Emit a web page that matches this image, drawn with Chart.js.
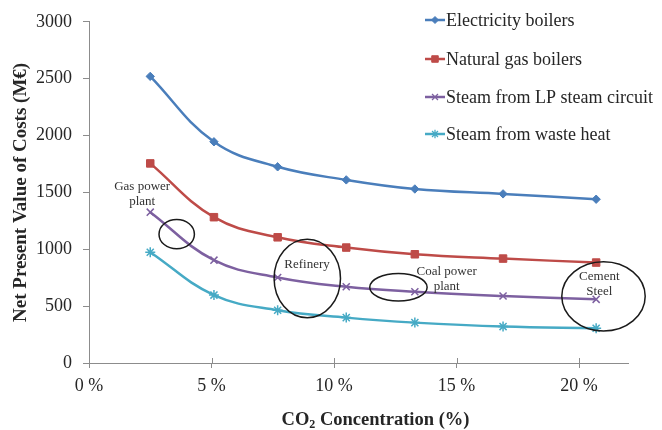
<!DOCTYPE html>
<html><head><meta charset="utf-8">
<script src="https://cdn.jsdelivr.net/npm/chart.js@4.4.0/dist/chart.umd.min.js"></script>
<style>html,body{margin:0;padding:0;background:#fff}#wrap{width:662px;height:430px}</style>
</head><body><div id="wrap"><canvas id="c" width="662" height="430"></canvas></div>
<script>
// ---- data ----
const co2Concentration = [2.5, 5.1, 7.7, 10.5, 13.3, 16.9, 20.7];
const electricityBoilers = [2520, 1945, 1725, 1610, 1530, 1487, 1440];
const naturalGasBoilers = [1755, 1282, 1105, 1015, 956, 918, 883];
const lpSteamCircuit = [1326, 904, 752, 670, 626, 589, 560];
const wasteHeat = [974, 597, 464, 399, 355, 320, 306];
const seriesNames = ['Electricity boilers', 'Natural gas boilers', 'Steam from LP steam circuit', 'Steam from waste heat'];
const xTickValues = [0, 5, 10, 15, 20];
const yTickValues = [0, 500, 1000, 1500, 2000, 2500, 3000];
const xTitleParts = ['CO', '2', ' Concentration (%)'];
const yTitle = 'Net Present Value of Costs (M€)';
// annotations (in data units; radii in px)
const noteTexts = [
  {lines: ['Gas power', 'plant'], x: 2.17, y: 1553},
  {lines: ['Refinery'], x: 8.9, y: 868},
  {lines: ['Coal power', 'plant'], x: 14.6, y: 801},
  {lines: ['Cement', 'Steel'], x: 20.83, y: 757}
];
const noteEllipses = [
  {x: 3.58, y: 1133, rx: 17.7, ry: 14.7},
  {x: 8.91, y: 743, rx: 33.2, ry: 39.3},
  {x: 12.63, y: 666, rx: 28.7, ry: 13.8},
  {x: 21.0, y: 586, rx: 41.7, ry: 34.7}
];

const FONT = "'Liberation Serif', 'Times New Roman', serif";
const TEXT = '#262626';
const AXIS = '#8c8c8c';
const colors = ['#4A7EBB', '#BE4B48', '#7D60A0', '#46AAC5'];
const styles = [
  {pointStyle: 'rectRot', pointRadius: 4.2, pointBorderWidth: 1},
  {pointStyle: 'rect', pointRadius: 5.3, pointBorderWidth: 1},
  {pointStyle: 'crossRot', pointRadius: 5, pointBorderWidth: 1.5},
  {pointStyle: 'star', pointRadius: 5, pointBorderWidth: 1.5}
];
const legendStyles = [
  {pointStyle: 'rectRot', pointRadius: 3.5, pointBorderWidth: 1},
  {pointStyle: 'rect', pointRadius: 4.6, pointBorderWidth: 1},
  {pointStyle: 'crossRot', pointRadius: 4.2, pointBorderWidth: 1.3},
  {pointStyle: 'star', pointRadius: 4.2, pointBorderWidth: 1.3}
];
const seriesValues = [electricityBoilers, naturalGasBoilers, lpSteamCircuit, wasteHeat];

const datasets = seriesValues.map((vals, i) => ({
  label: seriesNames[i],
  data: vals.map((v, j) => ({x: co2Concentration[j], y: v})),
  borderColor: colors[i],
  backgroundColor: colors[i],
  pointBackgroundColor: colors[i],
  pointBorderColor: colors[i],
  borderWidth: 2.5,
  tension: 0.4,
  fill: false,
  ...styles[i]
}));

function drawMarker(ctx, st, color, x, y) {
  ctx.save();
  ctx.fillStyle = color; ctx.strokeStyle = color; ctx.lineWidth = st.pointBorderWidth;
  if (Chart.helpers && Chart.helpers.drawPoint) {
    Chart.helpers.drawPoint(ctx, {pointStyle: st.pointStyle, radius: st.pointRadius, borderWidth: st.pointBorderWidth, rotation: 0}, x, y);
  } else {
    ctx.beginPath(); ctx.arc(x, y, st.pointRadius, 0, Math.PI * 2); ctx.fill();
  }
  ctx.restore();
}

const extras = {
  id: 'extras',
  afterDraw(chart) {
    const ctx = chart.ctx, xs = chart.scales.x, ys = chart.scales.y, ca = chart.chartArea;
    ctx.save();
    // inner half of x ticks (cross the axis)
    ctx.strokeStyle = AXIS; ctx.lineWidth = 1;
    xTickValues.forEach(v => {
      const px = Math.round(xs.getPixelForValue(v)) + 0.5;
      ctx.beginPath(); ctx.moveTo(px, ca.bottom); ctx.lineTo(px, ca.bottom - 5); ctx.stroke();
    });
    // ellipses
    ctx.strokeStyle = '#1a1a1a'; ctx.lineWidth = 1.5;
    noteEllipses.forEach(e => {
      ctx.beginPath();
      ctx.ellipse(xs.getPixelForValue(e.x), ys.getPixelForValue(e.y), e.rx, e.ry, 0, 0, Math.PI * 2);
      ctx.stroke();
    });
    // annotation texts
    ctx.fillStyle = '#333'; ctx.font = '13px ' + FONT; ctx.textAlign = 'center'; ctx.textBaseline = 'middle';
    noteTexts.forEach(n => {
      const px = xs.getPixelForValue(n.x), py = ys.getPixelForValue(n.y);
      n.lines.forEach((l, k) => ctx.fillText(l, px, py + k * 15));
    });
    // x title with subscript
    const big = 'bold 18.5px ' + FONT, small = 'bold 12px ' + FONT;
    ctx.fillStyle = TEXT; ctx.textAlign = 'left'; ctx.textBaseline = 'alphabetic';
    ctx.font = big; const w0 = ctx.measureText(xTitleParts[0]).width, w2 = ctx.measureText(xTitleParts[2]).width;
    ctx.font = small; const w1 = ctx.measureText(xTitleParts[1]).width;
    const total = w0 + w1 + w2;
    let tx = (ca.left + ca.right) / 2 + 17 - total / 2;
    const base = 425;
    ctx.font = big; ctx.fillText(xTitleParts[0], tx, base); tx += w0;
    ctx.font = small; ctx.fillText(xTitleParts[1], tx, base + 3); tx += w1;
    ctx.font = big; ctx.fillText(xTitleParts[2], tx, base);
    // legend
    const rows = [20, 59, 97, 134];
    chart.data.datasets.forEach((ds, i) => {
      const y = rows[i];
      ctx.strokeStyle = ds.borderColor; ctx.lineWidth = 2.5;
      ctx.beginPath(); ctx.moveTo(425, y); ctx.lineTo(445, y); ctx.stroke();
      drawMarker(ctx, legendStyles[i], ds.borderColor, 435, y);
      ctx.fillStyle = TEXT; ctx.font = '18px ' + FONT; ctx.textAlign = 'left'; ctx.textBaseline = 'middle';
      ctx.fillText(ds.label, 446, y + 1);
    });
    ctx.restore();
  }
};

new Chart(document.getElementById('c'), {
  type: 'line',
  data: {datasets},
  plugins: [extras],
  options: {
    responsive: false,
    animation: false,
    devicePixelRatio: 1,
    layout: {padding: {top: 20, right: 34, left: 0, bottom: 0}},
    plugins: {legend: {display: false}, tooltip: {enabled: false}, title: {display: false}},
    scales: {
      x: {
        type: 'linear', min: 0, max: 22,
        afterBuildTicks: s => { s.ticks = xTickValues.map(v => ({value: v})); },
        afterFit: s => { s.height = 67; },
        grid: {display: true, drawOnChartArea: false, drawTicks: true, tickLength: 5, color: AXIS},
        border: {display: true, color: AXIS, width: 1},
        ticks: {font: {family: FONT, size: 18}, color: TEXT, padding: 7, maxRotation: 0, autoSkip: false,
          callback: v => v + ' %'}
      },
      y: {
        type: 'linear', min: 0, max: 3000,
        afterBuildTicks: s => { s.ticks = yTickValues.map(v => ({value: v})); },
        afterFit: s => { s.width = 89; },
        grid: {display: true, drawOnChartArea: false, drawTicks: true, tickLength: 6, color: AXIS},
        border: {display: true, color: AXIS, width: 1},
        ticks: {font: {family: FONT, size: 18}, color: TEXT, padding: 11, autoSkip: false,
          callback: v => String(v)},
        title: {display: true, text: yTitle, color: TEXT, font: {family: FONT, size: 19, weight: 'bold'}, padding: {top: 10, bottom: 0}}
      }
    }
  }
});
</script></body></html>
